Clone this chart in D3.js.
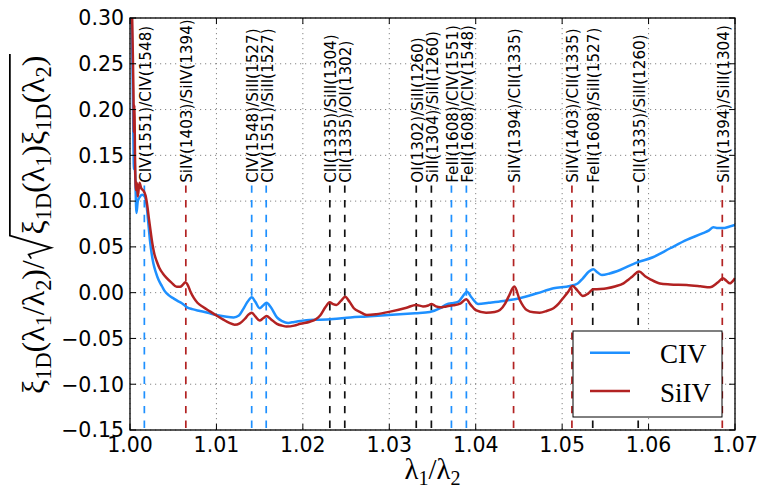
<!DOCTYPE html>
<html><head><meta charset="utf-8">
<script src="https://cdn.jsdelivr.net/npm/d3@7"></script>
<style>body{margin:0;background:#fff}</style>
</head><body>
<svg id="c" width="760" height="490"></svg>
<script>
// ---------------- data ----------------
const civX=[1.00015,1.0003,1.0004,1.00045,1.0005,1.0006,1.00075,1.0009,1.0011,1.0014,1.0017,1.0019,1.0021,1.0023,1.0025,1.0027,1.0030,1.0033,1.0037,1.0040,1.0045,1.0050,1.0055,1.0060,1.0066,1.0072,1.0081,1.0090,1.0100,1.0110,1.0120,1.0126,1.0131,1.0136,1.0141,1.0145,1.0150,1.0154,1.0158,1.0163,1.0170,1.0176,1.0183,1.0190,1.0204,1.0220,1.0235,1.0255,1.0274,1.0295,1.0312,1.0330,1.0347,1.0359,1.0367,1.0372,1.0380,1.0385,1.0390,1.0395,1.0403,1.0415,1.0432,1.0451,1.0471,1.0490,1.0509,1.0518,1.0524,1.0531,1.0536,1.0541,1.0546,1.0555,1.0567,1.0586,1.0605,1.0625,1.0644,1.0663,1.0670,1.0675,1.0680,1.0686,1.0693,1.0700];
const civY=[0.33,0.24,0.163,0.135,0.155,0.13,0.087,0.100,0.104,0.107,0.105,0.097,0.078,0.058,0.043,0.032,0.022,0.014,0.007,0.002,-0.003,-0.006,-0.009,-0.0115,-0.016,-0.018,-0.020,-0.022,-0.0244,-0.026,-0.027,-0.025,-0.018,-0.010,-0.005,-0.010,-0.017,-0.014,-0.011,-0.016,-0.027,-0.031,-0.033,-0.032,-0.030,-0.0295,-0.0287,-0.027,-0.026,-0.0248,-0.0236,-0.0225,-0.0212,-0.017,-0.0125,-0.0116,-0.0098,-0.004,0.001,-0.005,-0.0123,-0.011,-0.009,-0.006,-0.0007,0.0048,0.0073,0.010,0.0157,0.023,0.0256,0.022,0.0193,0.021,0.0248,0.0328,0.0387,0.0485,0.0576,0.065,0.068,0.0715,0.0705,0.0705,0.072,0.074];
const siivX=[1.00010,1.00025,1.0004,1.00045,1.0005,1.0006,1.0007,1.0008,1.0009,1.0011,1.0013,1.0015,1.0018,1.0020,1.0022,1.0024,1.0026,1.0028,1.0031,1.0034,1.0038,1.0042,1.0048,1.0054,1.0058,1.0061,1.0064,1.0067,1.0070,1.0074,1.0078,1.0085,1.0093,1.0100,1.0108,1.0115,1.0121,1.0127,1.0133,1.0137,1.0141,1.0145,1.0150,1.0154,1.0158,1.0163,1.0170,1.0176,1.0181,1.0190,1.0197,1.0208,1.0215,1.0220,1.0226,1.0231,1.0235,1.0239,1.0244,1.0249,1.0254,1.0259,1.0266,1.0274,1.0285,1.0301,1.0320,1.0331,1.0339,1.0345,1.0349,1.0354,1.0359,1.0366,1.0374,1.0382,1.0389,1.0394,1.0400,1.0412,1.0422,1.0428,1.0434,1.0438,1.04447,1.0451,1.0459,1.0467,1.0474,1.0482,1.0490,1.0496,1.0501,1.0507,1.0512,1.0518,1.0524,1.0530,1.0536,1.0544,1.0552,1.0562,1.0571,1.0577,1.0581,1.0589,1.0596,1.0602,1.0613,1.0625,1.0644,1.0660,1.0671,1.0680,1.0686,1.0690,1.0694,1.0700];
const siivY=[0.42,0.30,0.22,0.175,0.205,0.135,0.112,0.12,0.105,0.12,0.114,0.112,0.106,0.095,0.080,0.066,0.053,0.043,0.034,0.027,0.021,0.0165,0.011,0.0065,0.0065,0.0085,0.0113,0.008,0.001,-0.006,-0.011,-0.016,-0.0207,-0.025,-0.0295,-0.033,-0.035,-0.0335,-0.0285,-0.024,-0.0218,-0.026,-0.0305,-0.028,-0.0255,-0.029,-0.034,-0.036,-0.037,-0.036,-0.034,-0.0317,-0.029,-0.025,-0.016,-0.0105,-0.0125,-0.0134,-0.009,-0.0044,-0.010,-0.017,-0.021,-0.0244,-0.0235,-0.0207,-0.0164,-0.0134,-0.015,-0.014,-0.0123,-0.015,-0.016,-0.015,-0.0138,-0.012,-0.0072,-0.013,-0.019,-0.0218,-0.021,-0.019,-0.012,-0.0044,0.0066,-0.008,-0.019,-0.0215,-0.0218,-0.020,-0.017,-0.012,-0.0061,0.001,0.0073,0.002,-0.0036,-0.001,0.0037,0.004,0.0048,0.007,0.0102,0.0145,0.0175,0.023,0.018,0.0146,0.010,0.009,0.0084,0.007,0.0059,0.011,0.0157,0.013,0.0102,0.0157];
const lineRatios=[1.00166,1.00646,1.01408,1.01576,1.02312,1.02485,1.03312,1.03487,1.03719,1.03892,1.04438,1.05113,1.05354,1.05880,1.06853];
const lineLabels=["CIV(1551)/CIV(1548)","SiIV(1403)/SiIV(1394)","CIV(1548)/SiII(1527)","CIV(1551)/SiII(1527)","CII(1335)/SiII(1304)","CII(1335)/OI(1302)","OI(1302)/SiII(1260)","SiII(1304)/SiII(1260)","FeII(1608)/CIV(1551)","FeII(1608)/CIV(1548)","SiIV(1394)/CII(1335)","SiIV(1403)/CII(1335)","FeII(1608)/SiII(1527)","CII(1335)/SiII(1260)","SiIV(1394)/SiII(1304)"];
const lineSpecies=["CIV","SiIV","CIV","CIV","other","other","other","other","CIV","CIV","SiIV","SiIV","other","other","SiIV"];
const seriesNames=["CIV","SiIV"];
const xTicks=[1.00,1.01,1.02,1.03,1.04,1.05,1.06,1.07];
const yTicks=[-0.15,-0.10,-0.05,0.00,0.05,0.10,0.15,0.20,0.25,0.30];

// ---------------- drawing ----------------
const svg=d3.select("#c");
const L=130,R=735,T=18,B=430;
const x=d3.scaleLinear().domain([1.0,1.07]).range([L,R]);
const y=d3.scaleLinear().domain([-0.15,0.30]).range([B,T]);
const color=d3.scaleOrdinal().domain(["CIV","SiIV","other"]).range(["#1E90FF","#B22222","#111111"]);
const tickFont="DejaVu Sans";

svg.append("defs").append("clipPath").attr("id","clip").append("rect")
  .attr("x",L).attr("y",T).attr("width",R-L).attr("height",B-T);

// grid
const grid=svg.append("g").attr("stroke","#777").attr("stroke-width",0.9).attr("stroke-dasharray","1.2,3.8");
xTicks.forEach(v=>grid.append("line").attr("x1",x(v)).attr("x2",x(v)).attr("y1",T).attr("y2",B));
yTicks.forEach(v=>grid.append("line").attr("x1",L).attr("x2",R).attr("y1",y(v)).attr("y2",y(v)));

// vertical marker lines
const vl=svg.append("g");
lineRatios.forEach((r,i)=>{
  vl.append("line").attr("x1",x(r)).attr("x2",x(r)).attr("y1",y(-0.15)).attr("y2",y(0.117))
    .attr("stroke",color(lineSpecies[i])).attr("stroke-width",1.7)
    .attr("stroke-dasharray","7.4,7.3").attr("stroke-dashoffset",12.7);
  vl.append("text").attr("transform",`translate(${x(r)+6.5},${y(0.12)}) rotate(-90)`)
    .attr("font-family",tickFont).attr("font-size",15.2).attr("fill","#000")
    .attr("text-anchor","start").text(lineLabels[i]);
});

// curves
const line=d3.line().x(d=>x(d[0])).y(d=>y(d[1])).curve(d3.curveMonotoneX);
const cg=svg.append("g").attr("clip-path","url(#clip)");
[[civX,civY],[siivX,siivY]].forEach((s,k)=>{
  const pts=s[0].map((v,i)=>[v,s[1][i]]);
  cg.append("path").attr("d",line(pts)).attr("fill","none")
    .attr("stroke",color(seriesNames[k])).attr("stroke-width",2.5).attr("stroke-linejoin","round");
});

// frame + ticks
svg.append("rect").attr("x",L).attr("y",T).attr("width",R-L).attr("height",B-T)
  .attr("fill","none").attr("stroke","#000").attr("stroke-width",1.3);
const tk=svg.append("g").attr("stroke","#000").attr("stroke-width",1);
xTicks.forEach(v=>{
  tk.append("line").attr("x1",x(v)).attr("x2",x(v)).attr("y1",B).attr("y2",B-6);
  tk.append("line").attr("x1",x(v)).attr("x2",x(v)).attr("y1",T).attr("y2",T+6);
});
yTicks.forEach(v=>{
  tk.append("line").attr("x1",L).attr("x2",L+6).attr("y1",y(v)).attr("y2",y(v));
  tk.append("line").attr("x1",R).attr("x2",R-6).attr("y1",y(v)).attr("y2",y(v));
});
const fmt=v=>{const s=d3.format(".2f")(Math.abs(v));return (v<-1e-9?"\u2212":"")+s;};
xTicks.forEach(v=>svg.append("text").attr("x",x(v)).attr("y",452).attr("text-anchor","middle")
  .attr("font-family",tickFont).attr("font-size",20.5).text(d3.format(".2f")(v)));
yTicks.forEach(v=>svg.append("text").attr("x",124).attr("y",y(v)).attr("dy","0.36em").attr("text-anchor","end")
  .attr("font-family",tickFont).attr("font-size",20.5).text(fmt(v)));

// legend
const lg=svg.append("g");
lg.append("rect").attr("x",R-162).attr("y",B-99).attr("width",149).attr("height",86)
  .attr("fill","#fff").attr("stroke","#000").attr("stroke-width",1);
seriesNames.forEach((n,k)=>{
  const yy=B-77.3+k*38.3;
  lg.append("line").attr("x1",R-145).attr("x2",R-105).attr("y1",yy).attr("y2",yy)
    .attr("stroke",color(n)).attr("stroke-width",2.5);
  lg.append("text").attr("x",R-75).attr("y",yy+10.6).attr("font-family","Liberation Serif")
    .attr("font-size",27).text(n);
});

// math labels
function addPieces(t,pieces,F){
  let cur=0;
  pieces.forEach(p=>{
    const sub=p[1]===1, target=sub?0.22*F:0;
    t.append("tspan").attr("dy",target-cur).attr("font-size",sub?0.7*F:F).text(p[0]);
    cur=target;
  });
}
const serif="Liberation Serif";
const yl=svg.append("g");
function drawYLabel(F){
  yl.selectAll("*").remove();
  const inner=yl.append("g");
  const t1=inner.append("text").attr("font-family",serif).attr("x",0).attr("y",0);
  addPieces(t1,[["ξ",0],["1D",1],["(λ",0],["1",1],["/λ",0],["2",1],[")/",0]],F);
  const w1=t1.node().getComputedTextLength();
  const rx=w1+0.05*F, rw=0.72*F;
  const t2=inner.append("text").attr("font-family",serif).attr("x",rx+rw+0.04*F).attr("y",0);
  addPieces(t2,[["ξ",0],["1D",1],["(λ",0],["1",1],[")ξ",0],["1D",1],["(λ",0],["2",1],[")",0]],F);
  const w2=t2.node().getComputedTextLength();
  const top=-1.07*F, end=rx+rw+0.04*F+w2+0.05*F;
  inner.append("path").attr("d",`M${rx},${-0.40*F} L${rx+0.13*F},${-0.48*F} L${rx+0.34*F},${0.22*F} L${rx+rw},${top} L${end},${top}`)
    .attr("fill","none").attr("stroke","#000").attr("stroke-width",0.055*F).attr("stroke-linejoin","miter");
  return {inner,total:end};
}
let r=drawYLabel(30);
const F=30*340/r.total;
r=drawYLabel(F);
r.inner.attr("transform",`translate(${-r.total/2},0)`);
yl.attr("transform",`translate(44,${(T+B)/2}) rotate(-90)`);

const xl=svg.append("text").attr("font-family",serif).attr("x",0).attr("y",479);
addPieces(xl,[["λ",0],["1",1],["/λ",0],["2",1]],F*0.9);
const xw=xl.node().getComputedTextLength();
xl.attr("x",(L+R)/2-xw/2);
</script>
</body></html>
